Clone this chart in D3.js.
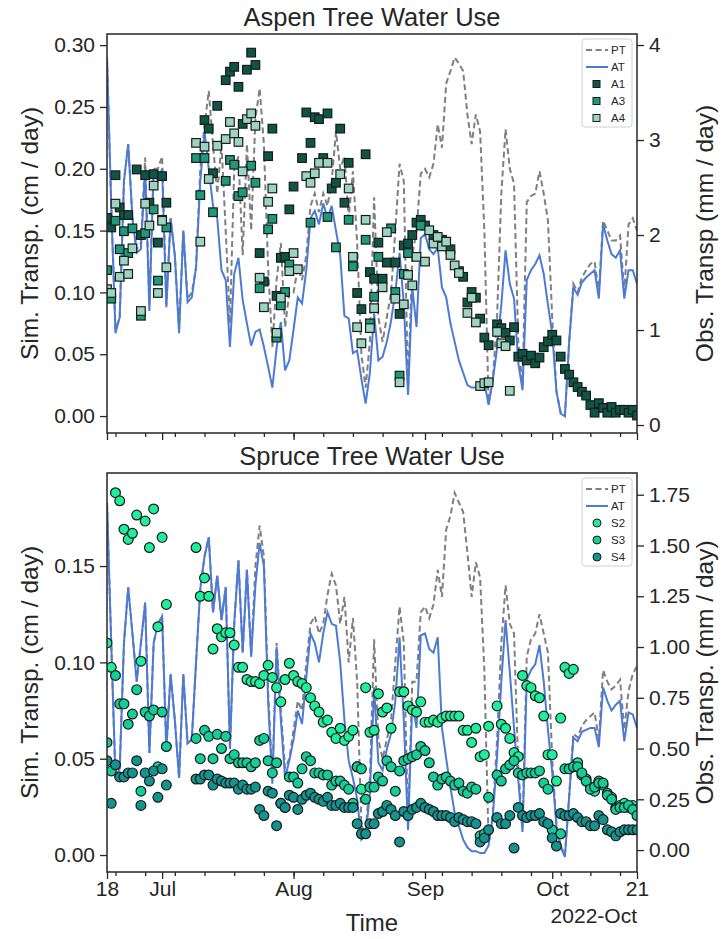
<!DOCTYPE html>
<html>
<head>
<meta charset="utf-8">
<script src="https://cdn.jsdelivr.net/npm/d3@7"></script>
<style>
body { margin: 0; background: #fff; }
text { font-family: "Liberation Sans", Arial, sans-serif; fill: #262626; }
</style>
</head>
<body>
<script>
// ---- data (day index 0 = 2022-06-18) ----
const startDay = new Date(2022, 5, 18);
const endDay = new Date(2022, 9, 21);

const aspenAT = [0.29,0.17,0.067,0.08,0.19,0.22,0.16,0.132,0.135,0.2,
 0.085,0.2,0.19,0.2,0.088,0.16,0.13,0.067,0.15,0.092,
 0.096,0.12,0.19,0.23,0.2,0.17,0.16,0.118,0.11,0.056,
 0.115,0.128,0.094,0.075,0.057,0.068,0.07,0.056,0.04,0.023,
 0.055,0.076,0.037,0.045,0.07,0.096,0.091,0.118,0.16,0.166,
 0.155,0.172,0.16,0.17,0.15,0.13,0.081,0.079,0.051,0.053,
 0.03,0.01,0.035,0.083,0.045,0.048,0.06,0.077,0.1,0.132,
 0.091,0.017,0.104,0.072,0.144,0.147,0.135,0.131,0.136,0.104,
 0.096,0.075,0.06,0.045,0.035,0.025,0.023,0.023,0.025,0.027,
 0.009,0.029,0.055,0.09,0.134,0.107,0.095,0.043,0.021,0.11,
 0.118,0.123,0.13,0.115,0.09,0.067,0.02,0.002,0.0,0.06,
 0.104,0.098,0.108,0.112,0.115,0.118,0.095,0.155,0.142,0.131,
 0.128,0.134,0.095,0.118,0.118,0.107];

const aspenPT = [0.29,0.17,0.07,0.08,0.19,0.22,0.16,0.135,0.14,0.209,
 0.09,0.2,0.2,0.21,0.09,0.16,0.13,0.07,0.15,0.095,
 0.1,0.12,0.2,0.235,0.263,0.22,0.18,0.22,0.15,0.075,
 0.2,0.21,0.13,0.22,0.15,0.24,0.265,0.22,0.12,0.056,
 0.11,0.14,0.072,0.1,0.1,0.12,0.11,0.13,0.17,0.18,
 0.165,0.18,0.17,0.19,0.23,0.2,0.21,0.16,0.198,0.14,
 0.05,0.023,0.06,0.177,0.08,0.06,0.08,0.1,0.15,0.204,
 0.19,0.02,0.13,0.15,0.196,0.2,0.193,0.204,0.236,0.217,
 0.269,0.279,0.29,0.285,0.279,0.244,0.22,0.244,0.23,0.15,
 0.01,0.03,0.08,0.18,0.232,0.2,0.188,0.06,0.025,0.173,
 0.178,0.18,0.198,0.18,0.158,0.08,0.02,0.003,0.0,0.06,
 0.107,0.1,0.112,0.118,0.123,0.125,0.1,0.158,0.15,0.142,
 0.142,0.146,0.1,0.155,0.16,0.15];

// observed aspen sap flow [day index, mm/day]
const a1 = [[0,2.18],[1,2.08],[2,2.63],[3,2.29],[4,2.21],[5,2.21],[7,2.69],[8,2.0],[9,2.63],[10,2.34],[11,2.64],[12,1.92],[13,2.62],[14,2.34],
 [23,3.21],[24,3.12],[25,2.65],[26,3.36],[28,3.63],[29,3.72],[30,3.77],[31,3.56],[32,3.17],[33,3.74],[34,3.92],[35,3.79],[36,1.81],[37,1.51],[38,2.83],[39,3.12],
 [40,1.36],[41,1.76],[42,1.77],[43,2.27],[44,2.51],[46,2.81],[47,3.29],[48,2.97],[49,3.24],[50,3.22],[51,2.81],[52,3.28],[53,2.49],[54,2.55],[55,3.12],[56,2.34],[57,2.76],
 [59,1.39],[60,1.22],[61,2.85],[62,1.61],[63,1.54],[64,1.92],[65,1.54],[66,1.71],[68,1.71],[69,1.17],[70,1.89],[71,1.91],[72,2.0],[73,2.13],[74,2.16],[75,2.1],[77,2.0],[79,1.95],
 [81,1.85],[83,1.62],[84,1.56],[85,1.29],[86,1.4],[87,1.34],[88,1.12],[89,0.92],[90,0.84],[92,1.06],[93,1.02],[94,0.97],[95,0.89],[96,1.03],[97,0.72],[98,0.75],[99,0.68],
 [100,0.73],[101,0.65],[102,0.71],[103,0.82],[104,0.88],[105,0.95],[106,0.89],[107,0.72],[108,0.59],[109,0.53],[110,0.45],[111,0.4],[112,0.35],[113,0.31],[114,0.21],
 [115,0.13],[116,0.23],[117,0.18],[118,0.13],[119,0.19],[120,0.13],[121,0.16],[122,0.16],[123,0.13],[124,0.16],[125,0.1]];
const a3 = [[0,1.63],[1,1.33],[2,2.15],[3,1.85],[4,2.04],[5,1.81],[6,2.07],[8,1.15],[9,2.02],[11,2.27],[12,1.52],[13,2.16],[14,2.08],
 [21,2.81],[22,2.42],[23,2.81],[25,2.24],[28,2.57],[29,2.79],[30,2.74],[31,2.41],[32,2.45],[34,2.73],[35,2.55],[36,1.44],[38,2.06],[39,2.17],
 [40,0.92],[41,1.26],[42,1.4],[43,1.69],[48,2.13],[52,2.19],[54,1.87],[57,2.16],[58,1.67],[61,1.95],[62,1.07],[63,1.35],[64,1.77],
 [67,2.07],[68,1.4],[69,0.52],[70,1.59],[71,1.81],[74,2.1]];
const a4 = [[0,1.43],[1,1.39],[2,2.33],[3,1.56],[4,1.73],[5,1.59],[6,1.86],[8,1.2],[9,2.33],[10,2.1],[11,2.52],[12,1.39],[13,2.15],[14,1.66],
 [21,2.97],[22,1.93],[23,2.93],[24,2.59],[26,2.94],[28,3.01],[29,3.19],[30,3.07],[31,2.98],[32,2.67],[33,3.22],[34,3.28],[35,3.15],[36,1.55],[37,1.24],[38,2.35],[39,2.49],
 [40,0.97],[41,1.34],[43,1.62],[44,1.81],[45,1.64],[47,2.62],[48,2.55],[49,2.65],[50,2.76],[52,2.76],[55,2.64],[57,2.49],[58,1.77],[59,1.03],[60,0.86],[61,2.16],
 [62,1.02],[63,1.23],[65,1.45],[66,2.03],[68,1.33],[69,0.45],[70,1.27],[71,1.58],[72,1.47],[73,1.77],[75,1.72],[76,2.05],[77,1.91],[78,1.98],[79,1.88],[80,1.93],
 [81,1.79],[82,1.68],[83,1.6],[85,1.18],[86,1.34],[87,1.08],[88,0.41],[89,0.44],[90,0.45],[92,0.98],[93,0.86],[94,0.83],[95,0.36]];

const spruceAT = [0.183,0.11,0.04,0.045,0.11,0.139,0.115,0.09,0.11,0.131,
 0.053,0.11,0.12,0.124,0.055,0.094,0.07,0.04,0.094,0.058,
 0.06,0.1,0.138,0.155,0.165,0.126,0.145,0.122,0.139,0.055,
 0.12,0.153,0.105,0.148,0.103,0.14,0.162,0.15,0.08,0.037,
 0.108,0.07,0.04,0.049,0.06,0.075,0.068,0.092,0.115,0.11,
 0.1,0.115,0.126,0.12,0.119,0.1,0.07,0.049,0.04,0.029,
 0.008,0.01,0.032,0.087,0.048,0.044,0.055,0.063,0.08,0.113,
 0.07,0.013,0.079,0.066,0.114,0.115,0.107,0.105,0.113,0.066,
 0.05,0.035,0.022,0.015,0.008,0.004,0.002,0.002,0.001,0.001,
 0.005,0.02,0.051,0.09,0.122,0.095,0.066,0.039,0.012,0.091,
 0.096,0.099,0.109,0.09,0.065,0.043,0.015,0.004,-0.001,0.03,
 0.061,0.059,0.064,0.065,0.066,0.066,0.056,0.087,0.08,0.075,
 0.078,0.08,0.059,0.074,0.073,0.066];

const sprucePT = [0.183,0.11,0.04,0.045,0.11,0.139,0.115,0.09,0.11,0.131,
 0.053,0.11,0.12,0.124,0.055,0.094,0.07,0.04,0.094,0.058,
 0.06,0.1,0.138,0.155,0.165,0.126,0.145,0.122,0.139,0.055,
 0.12,0.153,0.105,0.148,0.103,0.15,0.171,0.155,0.085,0.04,
 0.11,0.075,0.045,0.05,0.065,0.08,0.075,0.1,0.12,0.124,
 0.115,0.12,0.135,0.146,0.14,0.12,0.134,0.1,0.123,0.09,
 0.015,0.012,0.04,0.112,0.06,0.05,0.06,0.07,0.1,0.129,
 0.11,0.015,0.09,0.09,0.126,0.129,0.123,0.13,0.148,0.134,
 0.169,0.176,0.188,0.183,0.178,0.157,0.134,0.152,0.144,0.096,
 0.006,0.022,0.06,0.11,0.14,0.12,0.115,0.045,0.014,0.103,
 0.112,0.115,0.125,0.115,0.105,0.05,0.016,0.005,0.0,0.031,
 0.063,0.061,0.067,0.07,0.072,0.074,0.06,0.096,0.09,0.086,
 0.088,0.091,0.065,0.085,0.094,0.098];

const s2 = [[0,1.02],[1,0.9],[2,1.76],[3,1.72],[4,1.58],[5,1.53],[6,1.56],[7,1.65],[8,0.93],[9,1.62],[10,1.49],[11,1.68],[12,1.1],[13,1.54],[14,1.21],
 [21,1.49],[22,1.25],[23,1.34],[24,1.25],[25,0.99],[26,1.09],[27,1.05],[28,1.07],[29,1.07],[30,1.01],[31,0.9],[32,0.9],[33,0.84],[34,0.83],[35,0.83],[36,0.82],[37,0.86],
 [38,0.91],[39,0.85],[40,0.8],[41,0.73],[42,0.84],[43,0.92],[44,0.86],[45,0.83],[46,0.82],[47,0.8],[48,0.75],[49,0.71],[50,0.68],[51,0.63],[52,0.64],[53,0.58],[54,0.55],
 [55,0.6],[56,0.54],[57,0.56],[58,0.59],[59,0.41],[60,0.3],[61,0.8],[62,0.58],[63,0.59],[64,0.77],[65,0.68],[66,0.7],[67,0.6],[69,0.78],[70,0.78],[71,0.71],[72,0.69],
 [73,0.68],[74,0.73],[75,0.63],[76,0.63],[77,0.64],[78,0.63],[79,0.65],[80,0.66],[81,0.66],[82,0.66],[83,0.66],[84,0.59],[85,0.59],[86,0.53],[87,0.6],[88,0.46],[89,0.47],
 [90,0.61],[92,0.71],[93,0.62],[94,0.6],[95,0.55],[96,0.48],[97,0.46],[98,0.86],[99,0.81],[100,0.8],[101,0.76],[102,0.75],[103,0.66],[104,0.47],[105,0.47],[106,0.34],
 [107,0.65],[108,0.9],[109,0.87],[110,0.89],[111,0.43],[112,0.37],[113,0.35],[114,0.31],[115,0.29],[116,0.34],[117,0.32],[118,0.28],[119,0.26],[120,0.21],[121,0.22],
 [122,0.23],[123,0.21],[124,0.22],[125,0.2]];
const s3 = [[0,0.53],[1,0.39],[2,0.86],[3,0.72],[4,0.72],[5,0.62],[6,0.67],[7,0.79],[8,0.29],[9,0.68],[10,0.66],[11,0.69],[12,0.41],[13,0.68],[14,0.51],
 [21,0.55],[22,0.45],[23,0.59],[24,0.56],[25,0.45],[26,0.57],[27,0.5],[28,0.56],[29,0.45],[30,0.47],[31,0.43],[32,0.43],[33,0.43],[34,0.41],[35,0.43],[36,0.54],[37,0.55],
 [38,0.44],[39,0.38],[40,0.43],[41,0.23],[42,0.21],[43,0.36],[44,0.36],[45,0.33],[46,0.4],[47,0.46],[48,0.44],[49,0.38],[50,0.38],[51,0.37],[52,0.37],[53,0.32],[54,0.34],
 [55,0.34],[56,0.32],[57,0.3],[58,0.23],[59,0.41],[60,0.4],[61,0.25],[62,0.31],[63,0.31],[64,0.36],[65,0.34],[66,0.44],[67,0.41],[68,0.29],[69,0.39],[70,0.44],[71,0.45],
 [72,0.46],[73,0.47],[74,0.51],[75,0.49],[76,0.43],[77,0.36],[78,0.32],[79,0.35],[80,0.36],[81,0.34],[82,0.32],[83,0.33],[84,0.29],[85,0.28],[86,0.31],[87,0.3],[88,0.07],
 [89,0.08],[90,0.26],[92,0.37],[93,0.34],[94,0.4],[95,0.42],[96,0.44],[97,0.38],[98,0.37],[99,0.38],[100,0.38],[101,0.38],[102,0.39],[103,0.33],[104,0.3],[105,0.1],
 [107,0.08],[108,0.4],[109,0.4],[110,0.41],[111,0.41],[112,0.38],[113,0.34],[114,0.3],[115,0.31],[116,0.33],[117,0.33],[118,0.27],[119,0.25],[120,0.2],[121,0.21],
 [122,0.21],[123,0.22],[124,0.2],[125,0.17]];
const s4 = [[0,0.44],[1,0.23],[2,0.42],[3,0.36],[4,0.36],[5,0.38],[6,0.38],[7,0.44],[8,0.22],[9,0.38],[10,0.34],[11,0.39],[12,0.26],[13,0.4],[14,0.32],
 [21,0.35],[22,0.35],[23,0.37],[24,0.37],[25,0.32],[26,0.35],[27,0.34],[28,0.33],[29,0.33],[30,0.33],[31,0.3],[32,0.32],[33,0.3],[34,0.3],[35,0.31],[36,0.2],[37,0.17],
 [38,0.29],[39,0.28],[40,0.12],[41,0.23],[42,0.21],[43,0.27],[44,0.26],[45,0.2],[46,0.25],[47,0.27],[48,0.28],[49,0.26],[50,0.25],[51,0.24],[52,0.26],[53,0.22],[54,0.22],
 [55,0.23],[56,0.21],[57,0.21],[58,0.21],[59,0.13],[60,0.08],[61,0.08],[62,0.13],[63,0.13],[64,0.18],[65,0.19],[66,0.22],[67,0.2],[68,0.17],[69,0.04],[70,0.19],[71,0.17],
 [72,0.2],[73,0.21],[74,0.23],[75,0.21],[76,0.2],[77,0.19],[78,0.17],[79,0.17],[80,0.17],[81,0.16],[82,0.14],[83,0.16],[84,0.15],[85,0.14],[86,0.14],[87,0.13],[88,0.04],
 [89,0.06],[90,0.1],[92,0.16],[93,0.13],[94,0.13],[95,0.17],[96,0.01],[97,0.21],[98,0.17],[99,0.16],[100,0.17],[101,0.17],[102,0.18],[103,0.14],[104,0.13],[105,0.06],
 [106,0.02],[107,0.18],[108,0.17],[109,0.17],[110,0.18],[111,0.16],[112,0.14],[113,0.14],[114,0.12],[115,0.12],[116,0.17],[117,0.15],[118,0.1],[119,0.09],[120,0.07],
 [121,0.09],[122,0.1],[123,0.1],[124,0.1],[125,0.1]];

const leftTicksTop = [0.00, 0.05, 0.10, 0.15, 0.20, 0.25, 0.30];
const rightTicksTop = [0, 1, 2, 3, 4];
const leftTicksBot = [0.00, 0.05, 0.10, 0.15];
const rightTicksBot = [0.00, 0.25, 0.50, 0.75, 1.00, 1.25, 1.50, 1.75];
const xMajor = [new Date(2022,5,18), new Date(2022,6,1), new Date(2022,7,1), new Date(2022,8,1), new Date(2022,9,1), new Date(2022,9,21)];
const xMajorLabels = ["18", "Jul", "Aug", "Sep", "Oct", "21"];

// ---- layout ----
const W = 728, H = 939;
const left = 107, right = 637;
const ptColor = "#7f7f7f", atColor = "#4c7bd6", ink = "#262626";
const tickFont = "21px", labelFont = "24.5px";

const svg = d3.select("body").append("svg")
    .attr("width", W).attr("height", H);

const x = d3.scaleTime().domain([startDay, endDay]).range([left, right]);
const dayDate = function (i) { return d3.timeDay.offset(startDay, i); };

function panel(cfg) {
    const yL = d3.scaleLinear().domain(cfg.leftDomain).range([cfg.bottom, cfg.top]);
    const yR = d3.scaleLinear().domain(cfg.rightDomain).range([cfg.bottom, cfg.top]);
    const g = svg.append("g");

    const clipId = "clip" + cfg.top;
    svg.append("clipPath").attr("id", clipId)
        .append("rect").attr("x", left).attr("y", cfg.top)
        .attr("width", right - left).attr("height", cfg.bottom - cfg.top);

    const plot = g.append("g").attr("clip-path", "url(#" + clipId + ")");

    const line = d3.line()
        .x(function (d, i) { return x(dayDate(i)); })
        .y(function (d) { return yL(d); });

    plot.append("path").datum(cfg.pt)
        .attr("fill", "none").attr("stroke", ptColor)
        .attr("stroke-width", 2).attr("stroke-dasharray", "6,3.5")
        .attr("d", line);
    plot.append("path").datum(cfg.at)
        .attr("fill", "none").attr("stroke", atColor)
        .attr("stroke-width", 2)
        .attr("d", line);

    cfg.obs.forEach(function (s) {
        const sel = plot.append("g").selectAll("*").data(s.data);
        if (cfg.square) {
            sel.enter().append("rect")
                .attr("x", function (d) { return x(dayDate(d[0])) - 4.3; })
                .attr("y", function (d) { return yR(d[1]) - 4.3; })
                .attr("width", 8.6).attr("height", 8.6)
                .attr("fill", s.color).attr("stroke", "#1a1a1a").attr("stroke-width", 1.2);
        } else {
            sel.enter().append("circle")
                .attr("cx", function (d) { return x(dayDate(d[0])); })
                .attr("cy", function (d) { return yR(d[1]); })
                .attr("r", 4.9)
                .attr("fill", s.color).attr("stroke", "#1a1a1a").attr("stroke-width", 1.2);
        }
    });

    // frame
    g.append("rect").attr("x", left).attr("y", cfg.top)
        .attr("width", right - left).attr("height", cfg.bottom - cfg.top)
        .attr("fill", "none").attr("stroke", ink).attr("stroke-width", 1.5);

    // left axis
    const axL = g.append("g").attr("transform", "translate(" + left + ",0)")
        .call(d3.axisLeft(yL).tickValues(cfg.leftTicks).tickFormat(d3.format(".2f")).tickSize(7).tickPadding(5));
    // right axis
    const axR = g.append("g").attr("transform", "translate(" + right + ",0)")
        .call(d3.axisRight(yR).tickValues(cfg.rightTicks).tickFormat(cfg.rightFormat).tickSize(7).tickPadding(5));
    [axL, axR].forEach(function (a) {
        a.select(".domain").remove();
        a.selectAll(".tick line").attr("stroke", ink).attr("stroke-width", 1.3);
        a.selectAll(".tick text").style("font-size", tickFont).attr("fill", ink);
    });

    // bottom x ticks
    const axB = g.append("g").attr("transform", "translate(0," + cfg.bottom + ")");
    axB.call(d3.axisBottom(x).ticks(d3.timeMonday.every(1)).tickFormat("").tickSize(4));
    axB.append("g").call(d3.axisBottom(x).tickValues(xMajor)
        .tickFormat(function (d, i) { return cfg.xLabels ? xMajorLabels[i] : ""; })
        .tickSize(7).tickPadding(2));
    axB.selectAll(".domain").remove();
    axB.selectAll(".tick line").attr("stroke", ink).attr("stroke-width", 1.3);
    axB.selectAll(".tick text").style("font-size", tickFont).attr("fill", ink);

    // titles / labels
    g.append("text").attr("x", (left + right) / 2).attr("y", cfg.top - 8)
        .attr("text-anchor", "middle").style("font-size", "25.5px").text(cfg.title);
    const mid = (cfg.top + cfg.bottom) / 2;
    g.append("text").attr("transform", "translate(38," + mid + ") rotate(-90)")
        .attr("text-anchor", "middle").style("font-size", labelFont).text("Sim. Transp. (cm / day)");
    g.append("text").attr("transform", "translate(713," + mid + ") rotate(-90)")
        .attr("text-anchor", "middle").style("font-size", labelFont).text(cfg.rightLabel);

    // legend
    const lg = g.append("g").attr("transform", "translate(582," + (cfg.top + 5) + ")");
    lg.append("rect").attr("x", 0).attr("y", 0).attr("width", 50).attr("height", 88)
        .attr("rx", 3).attr("fill", "#fff").attr("fill-opacity", 0.85)
        .attr("stroke", "#d0d0d0").attr("stroke-width", 1);
    const items = [{ name: "PT", kind: "dash" }, { name: "AT", kind: "line" }]
        .concat(cfg.obs.map(function (s) { return { name: s.name, kind: "mark", color: s.color }; }));
    items.forEach(function (it, i) {
        const yy = 11 + i * 17;
        if (it.kind === "dash") {
            lg.append("line").attr("x1", 4).attr("x2", 26).attr("y1", yy).attr("y2", yy)
                .attr("stroke", ptColor).attr("stroke-width", 2).attr("stroke-dasharray", "6,3.5");
        } else if (it.kind === "line") {
            lg.append("line").attr("x1", 4).attr("x2", 26).attr("y1", yy).attr("y2", yy)
                .attr("stroke", atColor).attr("stroke-width", 2);
        } else if (cfg.square) {
            lg.append("rect").attr("x", 11).attr("y", yy - 3.5).attr("width", 7).attr("height", 7)
                .attr("fill", it.color).attr("stroke", "#1a1a1a").attr("stroke-width", 1);
        } else {
            lg.append("circle").attr("cx", 15).attr("cy", yy).attr("r", 4)
                .attr("fill", it.color).attr("stroke", "#1a1a1a").attr("stroke-width", 1);
        }
        lg.append("text").attr("x", 29).attr("y", yy + 4).style("font-size", "11.5px")
            .attr("fill", "#333").text(it.name);
    });
}

panel({
    top: 34, bottom: 433,
    leftDomain: [-0.0137, 0.309], rightDomain: [-0.084, 4.116],
    leftTicks: leftTicksTop, rightTicks: rightTicksTop, rightFormat: d3.format("d"),
    pt: aspenPT, at: aspenAT, square: true,
    obs: [{ name: "A1", data: a1, color: "#0d5646" }, { name: "A3", data: a3, color: "#1c9a7a" }, { name: "A4", data: a4, color: "#9bd5c2" }],
    title: "Aspen Tree Water Use", rightLabel: "Obs. Transp (mm / day)", xLabels: false
});
panel({
    top: 473, bottom: 872,
    leftDomain: [-0.0088, 0.1983], rightDomain: [-0.108, 1.857],
    leftTicks: leftTicksBot, rightTicks: rightTicksBot, rightFormat: d3.format(".2f"),
    pt: sprucePT, at: spruceAT, square: false,
    obs: [{ name: "S2", data: s2, color: "#1cf09c" }, { name: "S3", data: s3, color: "#12cf9a" }, { name: "S4", data: s4, color: "#129490" }],
    title: "Spruce Tree Water Use", rightLabel: "Obs. Transp. (mm / day)", xLabels: true
});

svg.append("text").attr("x", 372).attr("y", 931).attr("text-anchor", "middle")
    .style("font-size", "24px").text("Time");
svg.append("text").attr("x", 637).attr("y", 923).attr("text-anchor", "end")
    .style("font-size", tickFont).text("2022-Oct");
</script>
</body>
</html>
